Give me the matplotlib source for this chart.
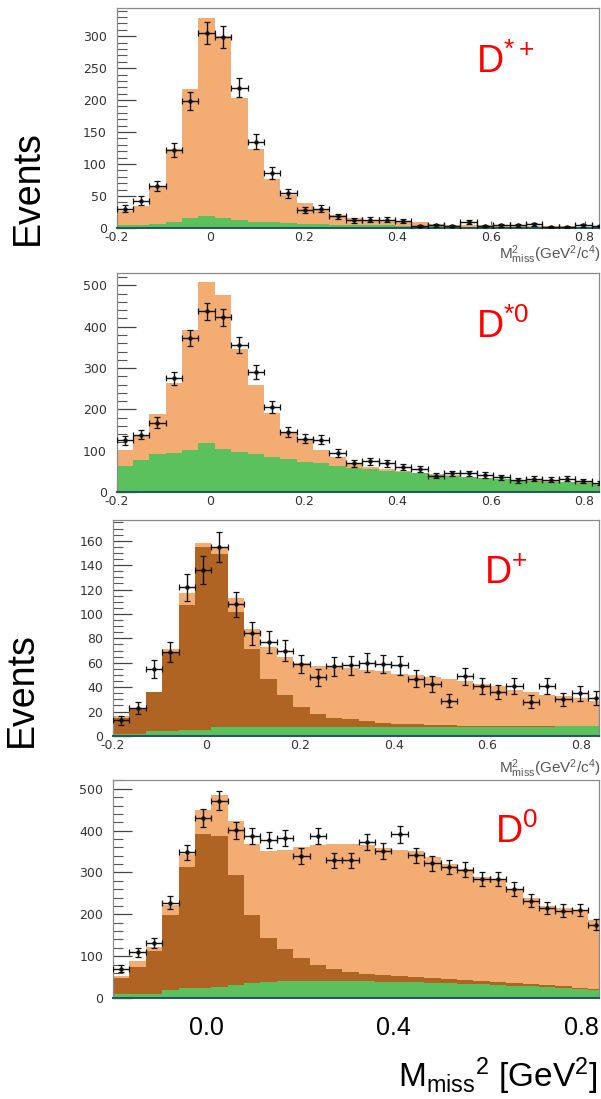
import numpy as np
import matplotlib
matplotlib.use("Agg")
import matplotlib.pyplot as plt
from matplotlib.ticker import MultipleLocator

plt.rcParams['font.family'] = ['Liberation Sans', 'DejaVu Sans']
plt.rcParams['mathtext.fontset'] = 'custom'
plt.rcParams['mathtext.rm'] = 'Liberation Sans'
plt.rcParams['mathtext.it'] = 'Liberation Sans:italic'
plt.rcParams['mathtext.bf'] = 'Liberation Sans:bold'

# M_miss^2 binning: 30 bins of 0.035 GeV^2 starting at -0.2
bin_lo = -0.2
bin_width = 0.035
n_bins = 30

# D*+ sample
dstp_data = [30, 43, 66, 122, 198, 305, 299, 219, 135, 86, 54, 28, 30, 18, 12,
             13, 13, 11, 3, 4, 3, 9, 3, 4, 4, 6, 2, 2, 4, 3]
dstp_total = [27, 35, 66, 124, 217, 329, 300, 203, 124, 76, 52, 39, 30, 20, 15,
              12, 12, 10, 9, 6, 5, 4, 4, 3, 3, 3, 3, 3, 2, 2]
dstp_bkg = [5, 5, 7, 9, 15, 18, 15, 12, 10, 9, 8, 7, 6, 5, 5,
            4, 4, 3, 3, 3, 3, 2, 2, 2, 2, 2, 2, 2, 2, 2]

# D*0 sample
dst0_data = [125, 139, 168, 275, 372, 437, 423, 356, 291, 206, 146, 129, 127, 95, 69,
             74, 69, 61, 55, 39, 45, 45, 41, 36, 28, 32, 30, 32, 27, 22]
dst0_total = [101, 138, 188, 265, 392, 508, 477, 346, 259, 192, 143, 125, 101, 85, 69,
              61, 56, 51, 46, 43, 40, 37, 34, 32, 29, 28, 26, 24, 23, 21]
dst0_bkg = [63, 77, 91, 95, 101, 119, 104, 97, 91, 85, 79, 73, 69, 64, 59,
            55, 51, 48, 45, 41, 39, 36, 34, 31, 28, 27, 25, 23, 22, 20]

# D+ sample
dp_data = [13, 23, 55, 69, 122, 136, 155, 108, 84, 77, 70, 59, 48, 57, 58,
           60, 59, 58, 47, 43, 29, 49, 41, 36, 41, 28, 41, 30, 35, 31]
dp_total = [16, 23, 36, 71, 117, 158, 154, 113, 88, 73, 65, 60, 57, 57, 56,
            54, 53, 51, 50, 48, 47, 45, 43, 41, 38, 36, 34, 33, 31, 29]
dp_signal = [15, 22, 36, 69, 107, 155, 149, 102, 71, 47, 34, 24, 18, 15, 14,
             12, 11, 10, 9.5, 9, 8.7, 8.5, 8.3, 8.2, 8.2, 8.1, 8.1, 8.1, 8.1, 8.1]
dp_bkg = [2, 2, 4, 4.5, 5, 5, 7.5, 7.5, 7.5, 7.5, 7.5, 7.5, 7.5, 7.5, 7.5,
          7.5, 7.5, 7.5, 7.5, 7.5, 7.5, 7.5, 7.5, 7.5, 7.5, 7.5, 7.5, 7.8, 7.8, 8]

# D0 sample
d0_data = [70, 109, 131, 228, 348, 430, 472, 401, 387, 377, 383, 339, 387, 329, 329,
           373, 351, 391, 341, 322, 313, 307, 284, 284, 261, 233, 215, 209, 210, 175]
d0_total = [52, 89, 121, 222, 345, 450, 486, 424, 368, 352, 354, 360, 365, 367, 367,
            365, 359, 353, 352, 336, 321, 309, 289, 281, 257, 238, 221, 214, 210, 186]
d0_signal = [48, 75, 113, 199, 314, 391, 388, 293, 199, 143, 116, 95, 79, 70, 62,
             58, 54, 52, 49, 47, 45, 44, 41, 39, 36, 33, 30, 28, 25, 22]
d0_bkg = [10, 10, 10, 18, 23, 23, 27, 31, 35, 38, 40, 40, 40, 40, 40,
          40, 39, 39, 38, 37, 36, 34, 33, 31, 29, 28, 26, 24, 22, 20]

panel_names = [r"D$^{*+}$", r"D$^{*0}$", r"D$^{+}$", r"D$^{0}$"]

ORANGE = '#f3ad73'
BROWN = '#b06424'
GREEN = '#5bc15c'
TEAL = '#24595e'

W, H = 601, 1099
edges = bin_lo + bin_width * np.arange(n_bins + 1)
centers = 0.5 * (edges[:-1] + edges[1:])


def px_axes(fig, left, top, bottom, right=599):
    return fig.add_axes([left / W, 1 - bottom / H, (right - left) / W, (bottom - top) / H])


def draw_panel(ax, data, levels, ymax, ymajor, yminor, left):
    # stacked components drawn back to front as cumulative outlines
    for values, color in levels:
        ax.stairs(values, edges, fill=True, color=color, linewidth=0, baseline=0)
    data = np.asarray(data, dtype=float)
    ax.errorbar(centers, data, xerr=bin_width / 2, yerr=np.sqrt(data), fmt='o',
                ms=2.2, color='#111111', ecolor='#111111', elinewidth=1.0,
                capsize=2.2, capthick=0.9, zorder=5)
    ax.set_xlim(bin_lo, bin_lo + (599 - left) / 468.0)
    ax.set_ylim(0, ymax)
    ax.set_axisbelow(True)
    ax.yaxis.set_major_locator(MultipleLocator(ymajor))
    ax.yaxis.set_minor_locator(MultipleLocator(yminor))
    ax.xaxis.set_major_locator(MultipleLocator(0.2))
    ax.tick_params(axis='y', which='major', direction='in', length=14, width=0.9,
                   color='#444444', labelsize=9, labelcolor='#333333', pad=7)
    ax.tick_params(axis='y', which='minor', direction='in', length=7, width=0.8,
                   color='#555555')
    ax.tick_params(axis='x', which='major', direction='in', length=5, width=0.8,
                   color='#555555', labelsize=9, labelcolor='#333333', pad=2)
    for lab in ax.get_yticklabels() + ax.get_xticklabels():
        lab.set_family('DejaVu Sans')
    ax.xaxis.set_major_formatter(plt.FuncFormatter(lambda v, p: '0' if abs(v) < 1e-9 else f'{v:.1f}'))
    for side in ('top', 'left', 'right'):
        ax.spines[side].set_color('#8a8a8a')
        ax.spines[side].set_linewidth(0.9)
    ax.spines['bottom'].set_color(TEAL)
    ax.spines['bottom'].set_linewidth(1.5)


fig = plt.figure(figsize=(W / 100, H / 100), dpi=100)
fig.patch.set_facecolor('white')

ax1 = px_axes(fig, 116.5, 8, 228)
draw_panel(ax1, dstp_data, [(dstp_total, ORANGE), (dstp_bkg, GREEN)], 344, 50, 10, 116.5)

ax2 = px_axes(fig, 116.5, 273, 492)
draw_panel(ax2, dst0_data, [(dst0_total, ORANGE), (dst0_bkg, GREEN)], 530, 100, 20, 116.5)

ax3 = px_axes(fig, 113, 520, 736)
draw_panel(ax3, dp_data, [(dp_total, ORANGE), (dp_signal, BROWN), (dp_bkg, GREEN)], 177, 20, 5, 113)

ax4 = px_axes(fig, 113, 780, 998)
draw_panel(ax4, d0_data, [(d0_total, ORANGE), (d0_signal, BROWN), (d0_bkg, GREEN)], 521, 100, 20, 113)
ax4.set_xticks([0.0, 0.4, 0.8])
ax4.set_xticklabels(['0.0', '0.4', '0.8'])
ax4.tick_params(axis='x', labelsize=18, labelcolor='black', pad=13)
for lab in ax4.get_xticklabels():
    lab.set_family('Liberation Sans')

# ROOT axis titles under the upper panels
for y in (255, 769):
    fig.text(601 / W, 1 - y / H, r"M$^{2}_{\rm miss}$(GeV$^{2}$/c$^{4}$)", ha='right', va='center',
             fontsize=11, color='#555555')

# channel names
for (x, y), name in zip([(476, 73), (476, 338), (484, 584), (495, 843)], panel_names):
    fig.text(x / W, 1 - y / H, name, color='#ff0000', fontsize=27, ha='left', va='baseline')

fig.text(28 / W, 1 - 188 / H, "Events", rotation=90, fontsize=27, ha='center', va='center')
fig.text(22 / W, 1 - 690 / H, "Events", rotation=90, fontsize=27, ha='center', va='center')
fig.text(598 / W, 1 - 1087 / H, r"M$_{\rm miss}$$^{2}$ [GeV$^{2}$]", fontsize=24,
         ha='right', va='baseline')

fig.savefig('out.png', dpi=100)
